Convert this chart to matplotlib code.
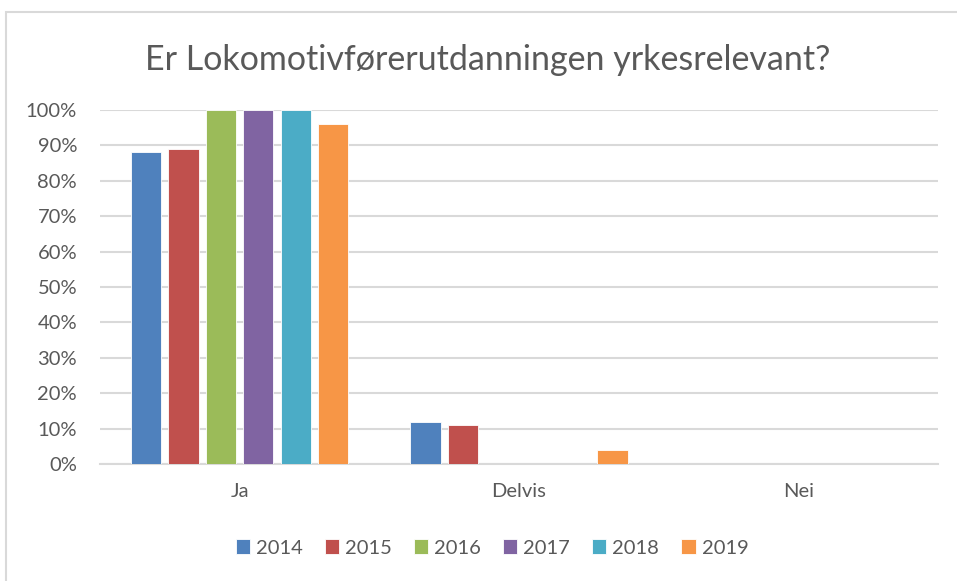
import numpy as np
import matplotlib.pyplot as plt
from matplotlib.patches import Rectangle

plt.rcParams['font.family'] = ['Lato', 'DejaVu Sans']

categories = ['Ja', 'Delvis', 'Nei']
years = ['2014', '2015', '2016', '2017', '2018', '2019']
values = {
    '2014': [0.88, 0.12, 0.0],
    '2015': [0.89, 0.11, 0.0],
    '2016': [1.00, 0.00, 0.0],
    '2017': [1.00, 0.00, 0.0],
    '2018': [1.00, 0.00, 0.0],
    '2019': [0.96, 0.04, 0.0],
}
colors = ['#4F81BD', '#C0504D', '#9BBB59', '#8064A2', '#4BACC6', '#F79646']
yticks = np.arange(0, 1.01, 0.1)

text_color = '#595959'
grid_color = '#D9D9D9'

fig = plt.figure(figsize=(9.57, 5.81), dpi=100)
# chart frame
fig.patches.append(Rectangle((6 / 957, -0.1), 1.2, 1 - 11.5 / 581 + 0.1,
                             transform=fig.transFigure, fill=False,
                             edgecolor=grid_color, linewidth=1.5))

ax = fig.add_axes([100 / 957, 1 - 464 / 581, 838 / 957, 354 / 581])

x = np.arange(len(categories))
pitch = 0.134
width = 0.108
for i, (year, color) in enumerate(zip(years, colors)):
    offs = (i - (len(years) - 1) / 2) * pitch
    ax.bar(x + offs, values[year], width=width, color=color,
           edgecolor='white', linewidth=0.6, label=year, zorder=3)

ax.set_xlim(-0.5, 2.5)
ax.set_ylim(0, 1.0)
ax.set_yticks(yticks)
ax.set_yticklabels([f'{int(round(t * 100))}%' for t in yticks])
ax.set_xticks(x)
ax.set_xticklabels(categories)
ax.yaxis.grid(True, color=grid_color, linewidth=1.5, zorder=0)
ax.set_axisbelow(True)
for side in ['top', 'right', 'left']:
    ax.spines[side].set_visible(False)
ax.spines['bottom'].set_color(grid_color)
ax.spines['bottom'].set_linewidth(1.5)
ax.tick_params(axis='both', length=0, labelsize=14.5, colors=text_color)
ax.tick_params(axis='y', pad=16.5)
ax.tick_params(axis='x', pad=14)

fig.text(488 / 957, 1 - 60 / 581, 'Er Lokomotivførerutdanningen yrkesrelevant?',
         ha='center', va='center', fontsize=24.5, color=text_color)

leg = fig.legend(loc='center', bbox_to_anchor=(492 / 957, 1 - 548 / 581),
                 ncol=6, frameon=False, fontsize=14.5, handlelength=0.7,
                 handleheight=0.7, handletextpad=0.3, columnspacing=1.1)
for t in leg.get_texts():
    t.set_color(text_color)

fig.savefig('out.png', dpi=100)
